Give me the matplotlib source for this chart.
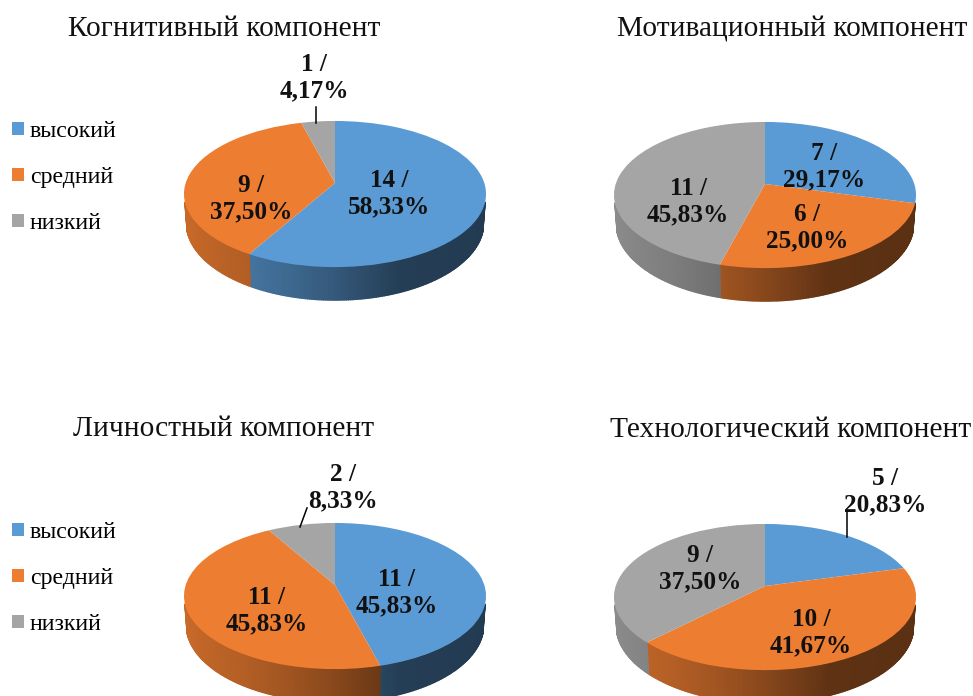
import numpy as np
import matplotlib
matplotlib.use("Agg")
import matplotlib.pyplot as plt
from matplotlib.transforms import Transform

# ---- data ----
categories = ["высокий", "средний", "низкий"]
titles = ["Когнитивный компонент", "Мотивационный компонент",
          "Личностный компонент", "Технологический компонент"]
kognitivny = [14, 9, 1]
motivatsionny = [7, 6, 11]
lichnostny = [11, 11, 2]
tekhnologichesky = [5, 10, 9]
series = [kognitivny, motivatsionny, lichnostny, tekhnologichesky]

# ---- styles / layout (pixels of the 973x696 picture) ----
colors = ["#5B9BD5", "#ED7D31", "#A5A5A5"]
apexes = [(335, 183), (765, 184), (335, 585), (765, 586)]
title_xy = [(224, 29), (792, 29), (224, 429), (791, 430)]
label_xy = [[(389, 194), (251, 199), (314, 78)],
            [(824, 167), (807, 228), (688, 202)],
            [(397, 593), (267, 611), (343, 488)],
            [(885, 492), (811, 633), (700, 569)]]
leaders = {(0, 2): ((316, 107), (316, 123)),
           (2, 2): ((307, 508), (300, 527)),
           (3, 0): ((847, 512), (847, 537))}
legend_xy = {0: (12, 121), 2: (12, 522)}
R, S, K, DEPTH, SHRINK = 149.3, 71.4, 0.151, 28.0, 0.985
SERIF = "Liberation Serif"


class Perspective(Transform):
    """Tilted unit disc -> picture pixels."""
    input_dims = output_dims = 2

    def __init__(self, apex):
        super().__init__()
        self.apex = apex

    def transform_non_affine(self, xy):
        xy = np.asarray(xy, float)
        w = 1 + K * xy[:, 1]
        return np.column_stack((self.apex[0] + R * xy[:, 0] / w,
                                self.apex[1] - S * xy[:, 1] / w))


def rim_shade(x):
    return np.interp(x, [-1, -0.55, -0.28, 0, 0.37, 1],
                     [0.85, 0.76, 0.68, 0.57, 0.40, 0.38])


def pct(v, total):
    return f"{v / total * 100:.2f}".replace(".", ",")


fig = plt.figure(figsize=(9.73, 6.96), dpi=100, facecolor="white")
ax = fig.add_axes([0, 0, 1, 1])

THETA_FROM = np.degrees(np.arccos(-K)) + 6
THETA_TO = 360 - THETA_FROM

for i, values in enumerate(series):
    apex = apexes[i]
    total = sum(values)
    wedges, _ = ax.pie(values, colors=colors, startangle=90, counterclock=False,
                       wedgeprops=dict(linewidth=0, zorder=3))
    tr = Perspective(apex) + ax.transData
    for wedge in wedges:
        wedge.set_transform(tr)

    # side wall, shaded strip by strip
    edges = np.concatenate(([0], np.cumsum(values))) / total * 360
    for j, color in enumerate(colors):
        lo, hi = max(edges[j], THETA_FROM), min(edges[j + 1], THETA_TO)
        if hi <= lo:
            continue
        th = np.radians(np.linspace(lo, hi, max(int((hi - lo) * 1.5), 2)))
        X, Y = np.sin(th), np.cos(th)
        w = 1 + K * Y
        tx, ty = apex[0] + R * X / w, apex[1] - S * Y / w
        bx = apex[0] + SHRINK * R * X / w
        by = apex[1] - S * Y / w + DEPTH / w
        base = np.array(matplotlib.colors.to_rgb(color))
        for n in range(len(th) - 1):
            shade = rim_shade(X[n:n + 2].mean())
            c = base * shade
            ax.fill([tx[n], tx[n + 1], bx[n + 1], bx[n]],
                    [ty[n], ty[n + 1], by[n + 1], by[n]],
                    color=c, lw=1.0, zorder=2)

    # data labels
    for j, v in enumerate(values):
        ax.text(*label_xy[i][j], f"{v} /\n{pct(v, total)}%", ha="center", va="center",
                family=SERIF, fontweight="bold", fontsize=18.2, linespacing=1.2,
                color="#111111", zorder=5)
        if (i, j) in leaders:
            a, b = leaders[(i, j)]
            ax.plot([a[0], b[0]], [a[1], b[1]], color="black", lw=1.1, zorder=4)

    ax.text(*title_xy[i], titles[i], ha="center", va="center", family=SERIF,
            fontsize=21.2, color="#111111", zorder=5)

    if i in legend_xy:
        fig.legend(wedges, categories, loc="upper left", bbox_to_anchor=legend_xy[i],
                   bbox_transform=ax.transData, frameon=False, borderpad=0,
                   borderaxespad=0, handlelength=0.5, handleheight=0.5,
                   handletextpad=0.25, labelspacing=1.05,
                   prop=dict(family=SERIF, size=17.2))

ax.set_aspect("auto")
ax.set_xlim(0, 973)
ax.set_ylim(696, 0)
ax.axis("off")
fig.savefig("out.png", dpi=100, facecolor="white")
